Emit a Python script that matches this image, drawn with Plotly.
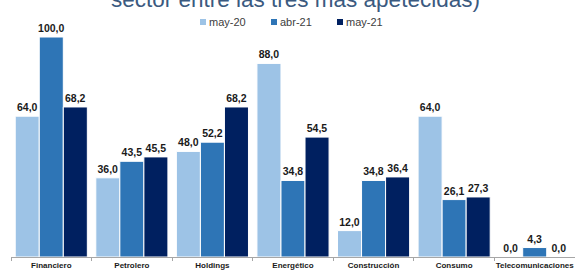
import plotly.graph_objects as go

categories = ["Financiero", "Petrolero", "Holdings", "Energético", "Construcción", "Consumo", "Telecomunicaciones"]
series_names = ["may-20", "abr-21", "may-21"]
may20 = [64.0, 36.0, 48.0, 88.0, 12.0, 64.0, 0.0]
abr21 = [100.0, 43.5, 52.2, 34.8, 34.8, 26.1, 4.3]
may21 = [68.2, 45.5, 68.2, 54.5, 36.4, 27.3, 0.0]
colors = ["#9DC3E6", "#2E75B6", "#002060"]
title_text = "sector entre las tres más apetecidas)"

W, H = 575, 270
L, R, T, B = 11, 0, 37, 13
pw = W - L - R
ph = H - T - B

def px(x):
    return (x - L) / pw

def py(y):
    return (H - B - y) / ph

fig = go.Figure()
for name, vals, col in zip(series_names, [may20, abr21, may21], colors):
    fig.add_trace(go.Bar(
        x=categories, y=vals, name=name,
        marker=dict(color=col, line=dict(color="white", width=1)),
        texttemplate="%{y:.1f}", textposition="outside", constraintext="none",
        textfont=dict(family="Arial, Liberation Sans", size=10.5, color="#1a1a1a", weight="bold"),
        cliponaxis=False, showlegend=False,
    ))

annotations = [dict(
    text=title_text, xref="paper", yref="paper", x=px(295), y=py(14),
    xanchor="center", yanchor="bottom", showarrow=False,
    font=dict(family="Arial, Liberation Sans", size=22.5, color="#3B5A7F"),
)]
shapes = []
leg_sq = [200, 271, 337]
for name, col, sx in zip(series_names, colors, leg_sq):
    shapes.append(dict(type="rect", xref="paper", yref="paper",
                       x0=px(sx), x1=px(sx + 6), y0=py(25), y1=py(19),
                       fillcolor=col, line=dict(width=0)))
    annotations.append(dict(text=name, xref="paper", yref="paper",
                            x=px(sx + 7), y=py(22), xanchor="left", yanchor="middle",
                            showarrow=False,
                            font=dict(family="Arial, Liberation Sans", size=11, color="#404040")))

fig.update_layout(
    width=W, height=H,
    margin=dict(l=L, r=R, t=T, b=B, pad=0),
    paper_bgcolor="white", plot_bgcolor="white",
    barmode="group", bargap=0.105, bargroupgap=0,
    separators=",.",
    showlegend=False,
    annotations=annotations, shapes=shapes,
    xaxis=dict(
        showline=True, linecolor="#A6A6A6", linewidth=1,
        ticks="outside", tickson="boundaries", ticklen=3, tickcolor="#A6A6A6",
        tickangle=0, automargin=False,
        tickfont=dict(family="Arial, Liberation Sans", size=8, color="#1a1a1a", weight="bold"),
        showgrid=False, fixedrange=True,
    ),
    yaxis=dict(range=[0, 100], visible=False, showgrid=False, fixedrange=True),
)

fig.write_html(
    "out.html",
    config={"displayModeBar": False},
    post_script="document.body.style.margin='0';document.body.style.overflow='hidden';",
)
